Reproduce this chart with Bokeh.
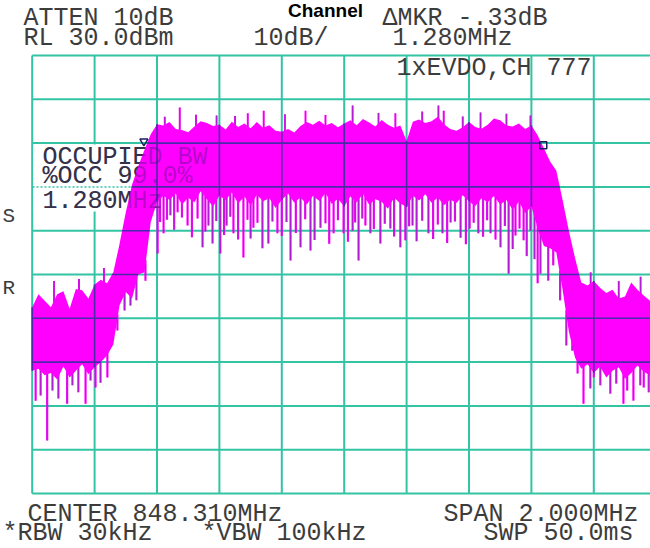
import numpy as np
from bokeh.plotting import figure
from bokeh.models import Label, Range1d, ColumnDataSource
from bokeh.core.properties import value
from bokeh.embed import file_html
from bokeh.resources import INLINE

# ---------------- instrument settings ----------------
CENTER_MHZ = 848.310
SPAN_MHZ = 2.0
REF_LEVEL_DBM = 30.0
DB_PER_DIV = 10.0

# ---------------- trace envelope ----------------
offset_khz = [-1000, -980, -960, -940, -920, -900, -880, -860, -840, -820,
              -800, -780, -760, -740, -720, -700, -680, -660, -640, -620,
              -600, -580, -560, -540, -520, -500, -480, -460, -440, -420,
              -400, -380, -360, -340, -320, -300, -280, -260, -240, -220,
              -200, -180, -160, -140, -120, -100, -80, -60, -40, -20,
              0, 20, 40, 60, 80, 100, 120, 140, 160, 180,
              200, 220, 240, 260, 280, 300, 320, 340, 360, 380,
              400, 420, 440, 460, 480, 500, 520, 540, 560, 580,
              600, 620, 640, 660, 680, 700, 720, 740, 760, 780,
              800, 820, 840, 860, 880, 900, 920, 940, 960, 980, 1000]

top_dbm = [-27.5, -24.5, -26.0, -27.5, -24.5, -23.8, -27.8, -23.3, -23.6, -25.5,
           -22.3, -21.2, -22.0, -19.5, -13.0, -5.8, 0.5, 4.8, 8.5, 12.0,
           14.3, 14.0, 14.8, 13.2, 13.0, 12.5, 13.8, 15.0, 14.6, 13.9,
           14.2, 13.1, 14.9, 13.7, 14.5, 13.4, 14.8, 13.5, 14.1, 12.8,
           12.6, 13.2, 12.4, 13.9, 14.8, 14.2, 15.1, 14.0, 14.6, 13.6,
           14.5, 15.2, 14.1, 15.5, 14.7, 13.8, 15.3, 14.2, 13.5, 14.0,
           10.5, 14.9, 15.4, 14.6, 15.0, 16.0, 14.3, 13.2, 12.8, 13.6,
           14.8, 13.7, 13.3, 14.2, 15.6, 15.2, 14.0, 13.8, 14.5, 13.2,
           14.0, 11.8, 8.8, 5.8, 3.7, -3.0, -10.0, -16.3, -21.8, -22.5,
           -21.5, -23.0, -24.2, -23.5, -25.5, -25.0, -21.8, -23.5, -24.8, -26.0, -25.0]

bottom_dbm = [-42.0, -41.5, -43.0, -42.5, -44.0, -41.0, -43.5, -42.0, -40.5, -42.8,
              -41.2, -40.0, -38.5, -36.0, -27.0, -24.0, -25.5, -20.0, -19.5, -8.0,
              -3.5, -2.0, -3.0, -1.5, -4.0, -2.5, -3.5, -1.0, -2.8, -4.5,
              -2.0, -3.0, -1.2, -3.8, -2.2, -4.2, -1.8, -3.3, -2.6, -4.8,
              -3.0, -1.5, -3.6, -2.4, -4.0, -2.0, -3.2, -1.4, -3.9, -2.7,
              -4.5, -2.2, -3.5, -1.6, -4.1, -2.8, -3.4, -5.0, -2.5, -3.8,
              -4.6, -2.0, -3.1, -1.7, -3.6, -2.4, -4.2, -2.9, -3.7, -1.9,
              -3.3, -4.4, -2.6, -3.5, -2.1, -4.0, -3.0, -5.2, -3.4, -6.0,
              -4.5, -9.5, -13.5, -14.0, -15.0, -23.5, -33.0, -39.0, -41.5, -40.5,
              -42.5, -41.0, -43.5, -42.0, -41.2, -43.8, -42.5, -40.8, -42.2, -43.0, -41.5]

# downward noise spikes (tip level)
dip_khz = [-989, -973, -952, -935, -916, -888, -871, -852, -829, -813, -797, -781, -759,
           -727, -704, -685, -666, -637,
           -598, -579, -557, -534, -502, -454, -435, -422, -397, -377, -355, -323,
           -291, -243, -214, -172, -140, -108, -76, -34, -2, 27, 46, 68, 84, 116,
           148, 180, 196, 219, 270, 315, 341, 373, 402, 430, 469, 501, 527, 549, 575, 597,
           -590, -568, -545, -520, -488, -470, -445, -410, -385, -365, -340, -310,
           -300, -278, -262, -230, -200, -185, -155, -125, -95, -60, -48, -20,
           12, 35, 58, 95, 130, 160, 208, 232, 250, 285, 300, 330, 355, 390,
           415, 445, 458, 485, 515, 540, 562, 585, 610, 620,
           629, 654, 670, 692, 712, 731,
           748, 767, 789, 800, 821, 853, 872, 895, 907, 927, 949, 960, 976]
dip_dbm = [-48.8, -47.6, -57.9, -46.5, -48.3, -49.5, -45.3, -46.9, -49.5, -44.2, -45.8, -44.7, -43.5,
           -32.8, -28.2, -27.1, -25.9, -21.4,
           -15.2, -10.6, -6.5, -5.8, -8.8, -13.8, -8.8, -12.9, -15.2, -8.8, -10.6, -16.1,
           -9.3, -12.9, -10.6, -16.8, -13.8, -14.5, -9.3, -10.6, -10.6, -10.0, -16.8, -8.8, -10.6, -12.9,
           -9.5, -13.8, -12.2, -8.8, -10.6, -10.6, -8.1, -11.6, -9.5, -10.6, -10.6, -13.8, -19.8, -11.1, -12.2, -10.0,
           -8.0, -7.5, -9.8, -7.0, -11.5, -7.2, -10.2, -7.8, -11.0, -6.8, -12.0, -7.5,
           -11.8, -8.2, -14.0, -7.9, -11.2, -8.0, -10.5, -7.4, -12.1, -8.3, -13.0, -7.6,
           -12.5, -8.1, -7.2, -9.6, -8.4, -11.3, -9.0, -12.4, -7.7, -11.9, -8.6, -12.8, -7.9, -13.1,
           -8.2, -11.4, -7.6, -12.0, -8.9, -14.2, -9.5, -15.8, -16.5, -22.0,
           -19.8, -21.4, -17.9, -25.9, -36.2, -37.4,
           -42.6, -49.5, -46.0, -43.5, -45.3, -47.2, -44.9, -49.5, -46.5, -48.8, -45.3, -45.8, -46.9]

# upward noise spikes (tip level)
peak_khz = [-930, -850, -770, -575, -527, -475, -409, -350, -309, -258, -190, -124, -60,
            27, 110, 164, 250, 302, 319, 380, 437, 520, 597, 790, 880, 950]
peak_dbm = [-21.5, -21.0, -18.5, 16.0, 18.1, 16.5, 16.3, 16.2, 16.8, 17.4, 16.6, 17.4, 16.4,
            18.6, 16.9, 16.8, 17.2, 18.6, 17.4, 16.1, 17.0, 16.7, 16.3, -19.5, -21.5, -20.5]

# occupied-bandwidth markers
marker_khz = [-642, 638]
marker_dbm = [10.4, 9.5]

assert len(offset_khz) == len(top_dbm) == len(bottom_dbm)
assert len(dip_khz) == len(dip_dbm)
assert len(peak_khz) == len(peak_dbm)

# ---------------- screen geometry (pixels of the graticule) ----------------
GX0, GDX = 31.7, 62.4   # left graticule line, px per division
GY0, GDY = 55.0, 43.8   # top graticule line, px per division


def fx(px):
    return CENTER_MHZ - SPAN_MHZ / 2 + (px - GX0) / GDX * (SPAN_MHZ / 10)


def fy(py):
    return REF_LEVEL_DBM - (py - GY0) / GDY * DB_PER_DIV


W, H = 650, 548
p = figure(width=W, height=H, output_backend="svg", toolbar_location=None,
           x_range=Range1d(fx(0), fx(W)), y_range=Range1d(fy(H), fy(0)),
           x_axis_location=None, y_axis_location=None, title=None,
           min_border_left=0, min_border_right=0, min_border_top=0, min_border_bottom=0)
p.outline_line_color = None
p.background_fill_color = "white"
p.border_fill_color = "white"
p.grid.visible = False

GRID = "#33c4a4"
xt = [CENTER_MHZ - SPAN_MHZ / 2 + k * SPAN_MHZ / 10 for k in range(11)]
yt = [REF_LEVEL_DBM - k * DB_PER_DIV for k in range(11)]

# graticule
p.segment(x0=xt, x1=xt, y0=[yt[-1]] * len(xt), y1=[yt[0]] * len(xt), line_color=GRID, line_width=2)
p.segment(x0=[xt[0]] * len(yt), x1=[xt[-1]] * len(yt), y0=yt, y1=yt, line_color=GRID, line_width=2)

TXT = "#3c3c3c"
MONO = "Liberation Mono"
FS = "25px"

# white box behind the occupied-BW readout
p.quad(left=[fx(33)], right=[fx(150)], top=[fy(144)], bottom=[fy(211)],
       fill_color="white", line_color=None)
p.segment(x0=[fx(32), fx(32)], x1=[fx(150), fx(150)], y0=[yt[2], yt[3]], y1=[yt[2], yt[3]],
          line_color=GRID, line_width=1.5, line_dash="2 2")

# occupied BW readout (under trace)
occ_src = ColumnDataSource(dict(x=[fx(42)] * 3, y=[fy(157), fy(176), fy(201)],
                                t=["OCCUPIED BW", "%OCC 99.0%", "1.280MHz"]))
p.text(x="x", y="y", text="t", source=occ_src, text_font=value(MONO), text_font_size=FS,
       text_color=TXT, text_baseline="alphabetic")

# ---------------- trace ----------------
MAG = "#ff00ff"
f_env = CENTER_MHZ + np.array(offset_khz) / 1000.0
top = np.array(top_dbm)
bot = np.array(bottom_dbm)
p.varea(x=f_env, y1=bot, y2=top, fill_color=MAG, fill_alpha=1.0)

dip_f = CENTER_MHZ + np.array(dip_khz) / 1000.0
dip_y0 = np.interp(dip_f, f_env, bot)
p.segment(x0=dip_f, y0=dip_y0 + 1.0, x1=dip_f, y1=dip_dbm, line_color=MAG, line_width=2.2)
p.segment(x0=dip_f, y0=dip_y0, x1=dip_f, y1=dip_dbm, line_color="#6a3aa8", line_width=0.8, line_alpha=0.7)

pk_f = CENTER_MHZ + np.array(peak_khz) / 1000.0
pk_y0 = np.interp(pk_f, f_env, top)
p.segment(x0=pk_f, y0=pk_y0 - 1.0, x1=pk_f, y1=peak_dbm, line_color=MAG, line_width=2.0)
p.segment(x0=pk_f, y0=pk_y0, x1=pk_f, y1=peak_dbm, line_color="#6a3aa8", line_width=0.8, line_alpha=0.7)

# graticule seen through the trace (darkened)
lo, hi = max(fx(0), f_env[0]), min(fx(W), f_env[-1])
ff = np.linspace(lo, hi, 4000)
ti = np.interp(ff, f_env, top)
bi = np.interp(ff, f_env, bot)
hx0, hx1, hy = [], [], []
for L in yt:
    inside = ((bi < L) & (ti > L)).astype(int)
    d = np.diff(np.concatenate([[0], inside, [0]]))
    for s, e in zip(np.where(d == 1)[0], np.where(d == -1)[0] - 1):
        hx0.append(ff[s]); hx1.append(ff[e]); hy.append(L)
p.segment(x0=hx0, x1=hx1, y0=hy, y1=hy, line_color="#4a2aa8", line_width=1.6)
vx = [F for F in xt if lo <= F <= hi]
p.segment(x0=vx, x1=vx, y0=list(np.interp(vx, f_env, bot)), y1=list(np.interp(vx, f_env, top)),
          line_color="#4a2aa8", line_width=1.6)

# faint readout over the trace
p.text(x="x", y="y", text="t", source=occ_src, text_font=value(MONO), text_font_size=FS,
       text_color="#2a1a6a", text_alpha=0.35, text_baseline="alphabetic")

# markers
mk_f = CENTER_MHZ + np.array(marker_khz) / 1000.0
p.scatter(x=[mk_f[0]], y=[marker_dbm[0]], marker="inverted_triangle", size=8,
          fill_color=None, line_color="#1c1c60", line_width=1.5)
p.scatter(x=[mk_f[1]], y=[marker_dbm[1]], marker="square", size=7,
          fill_color=None, line_color="#1c1c60", line_width=1.5)


# ---------------- screen annotations ----------------
def lab(text, px, py, align="left", size=FS, font=MONO, style="normal", color=TXT):
    p.add_layout(Label(x=fx(px), y=fy(py), text=text, text_font=font, text_font_size=size,
                       text_color=color, text_align=align, text_baseline="alphabetic",
                       text_font_style=style))


lab("Channel", 325, 10, align="center", size="19px", font="Liberation Sans", style="bold", color="black")
lab("ATTEN 10dB", 23, 18)
lab("\u0394MKR -.33dB", 382, 18)
lab("RL 30.0dBm", 23, 38)
lab("10dB/", 253, 38)
lab("1.280MHz", 392, 38)
lab("1xEVDO,CH 777", 591, 68, align="right")
lab("S", 2, 216, size="21px")
lab("R", 2, 288, size="21px")
lab("CENTER 848.310MHz", 27, 514)
lab("SPAN 2.000MHz", 638, 514, align="right")
lab("*RBW 30kHz", 2, 533)
lab("*VBW 100kHz", 201, 533)
lab("SWP 50.0ms", 483, 533)

open("out.html", "w").write(file_html(p, INLINE))
